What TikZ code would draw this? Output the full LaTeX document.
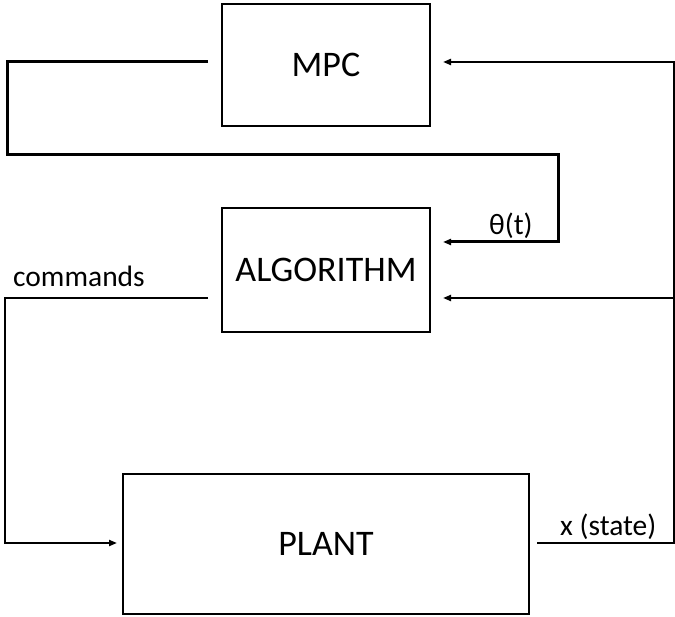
\documentclass[tikz,border=0pt]{standalone}
\usepackage{fontspec}
\setmainfont{Carlito}
\usetikzlibrary{arrows.meta}
\tikzset{
  block/.style={draw=black, line width=2pt, minimum width=208pt, inner sep=0pt,
                font=\fontsize{36}{40}\selectfont},
  wire/.style={draw=black, line width=2pt},
  feed/.style={wire, -{Triangle[length=8pt,width=6pt]}},
  sig/.style={anchor=base west, inner sep=0pt, font=\fontsize{29.5}{32}\selectfont},
}
\begin{document}
\begin{tikzpicture}[x=1pt,y=-1pt]
  \useasboundingbox (0,0) rectangle (675,617);

  % blocks
  \node[block, minimum height=122pt] (mpc)   at (326,65)  {MPC};
  \node[block, minimum height=124pt] (alg)   at (326,270) {ALGORITHM};
  \node[block, minimum width=406pt, minimum height=140pt] (plant) at (326,544) {PLANT};

  % connector end points
  \coordinate (mpcout)  at (208,62);
  \coordinate (thetain) at (443,242);
  \coordinate (algout)  at (208,298);
  \coordinate (plantin) at (117,543);
  \coordinate (xout)    at (537,543);
  \coordinate (mpcin)   at (443,62);
  \coordinate (algin)   at (443,298);
  \coordinate (tap)     at (674,298);

  % MPC parameters to the algorithm
  \draw[feed, line width=3pt] (mpcout) -- (7,62) -- (7,155) -- (558,155) -- (558,242) -- (thetain);
  % commands to the plant
  \draw[feed, line width=2.5pt] (algout) -- (5,298) -- (5,543) -- (plantin);
  % state feedback
  \draw[feed] (xout) -- (674,543) -- (674,62) -- (mpcin);
  \draw[feed] (tap) -- (algin);

  % signal labels
  \node[sig] (lcmd)   at (13,287)  {commands};
  \node[sig] (ltheta) at (489,235) {θ(t)};
  \node[sig] (lstate) at (560,535) {x (state)};
\end{tikzpicture}
\end{document}
